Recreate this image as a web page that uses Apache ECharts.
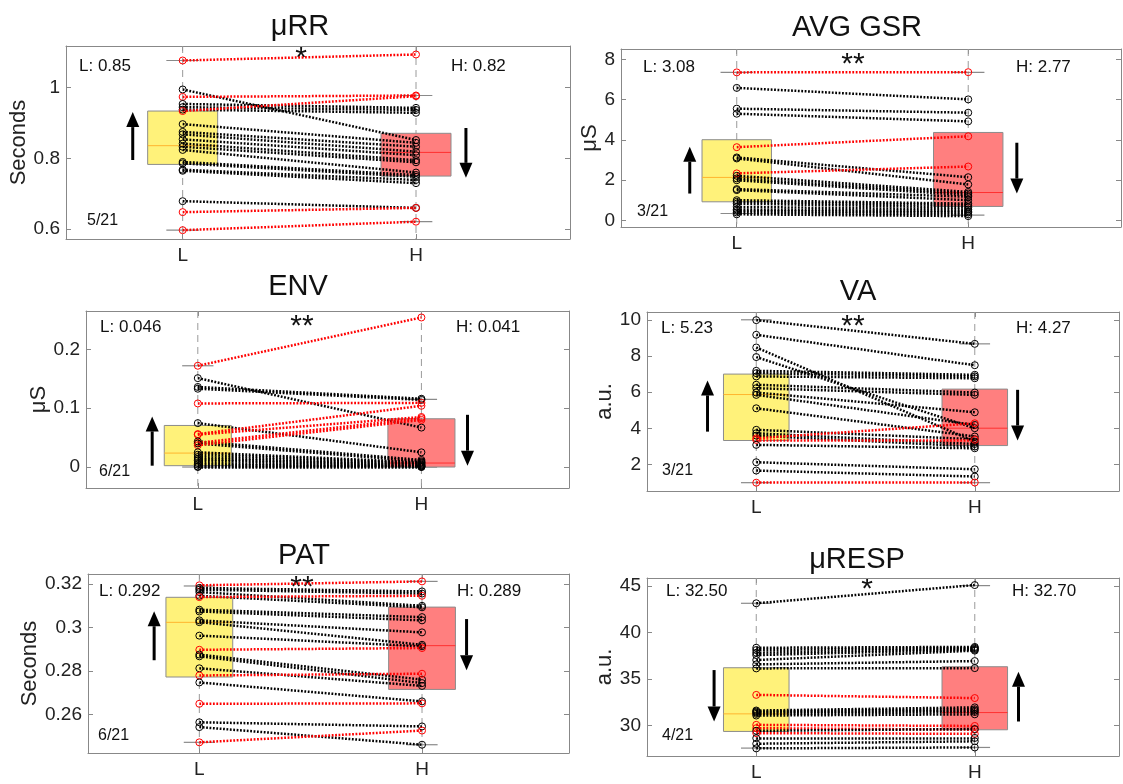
<!DOCTYPE html>
<html>
<head>
<meta charset="utf-8">
<script src="https://cdn.jsdelivr.net/npm/echarts@6/dist/echarts.min.js"></script>
<style>html,body{margin:0;background:#fff}#main{width:1123px;height:784px}</style>
</head>
<body>
<div id="main"></div>
<script>
const myChart = echarts.init(document.getElementById('main'));
const FONT = '"Liberation Sans", Arial, Helvetica, sans-serif';

// one value per subject (21), L = low condition, H = high condition
const rrL = [1.077, 0.995, 0.974, 0.954, 0.945, 0.938, 0.934, 0.897, 0.875, 0.868, 0.854, 0.842, 0.833, 0.824, 0.790, 0.786, 0.768, 0.765, 0.679, 0.648, 0.597];
const rrH = [1.094, 0.852, 0.978, 0.943, 0.937, 0.929, 0.976, 0.844, 0.833, 0.819, 0.809, 0.795, 0.789, 0.760, 0.753, 0.748, 0.739, 0.730, 0.660, 0.660, 0.621];

const gsrL = [7.35, 6.58, 5.55, 5.30, 3.64, 3.13, 3.08, 2.34, 2.22, 2.09, 2.00, 1.56, 1.51, 1.01, 0.93, 0.84, 0.68, 0.55, 0.48, 0.40, 0.31];
const gsrH = [7.36, 6.01, 5.35, 4.92, 4.18, 2.15, 1.79, 2.68, 1.42, 1.34, 1.26, 1.18, 1.01, 0.84, 0.76, 0.65, 0.55, 0.46, 0.40, 0.31, 0.22];

const envL = [0.172, 0.151, 0.136, 0.133, 0.108, 0.0746, 0.056, 0.055, 0.0435, 0.041, 0.040, 0.037, 0.025, 0.021, 0.017, 0.0136, 0.011, 0.0068, 0.004, 0.001, 0.000];
const envH = [0.254, 0.067, 0.116, 0.114, 0.109, 0.025, 0.104, 0.085, 0.012, 0.083, 0.0096, 0.080, 0.008, 0.007, 0.0055, 0.004, 0.003, 0.002, 0.001, 0.0005, 0.000];

const vaL = [9.98, 9.17, 8.47, 7.94, 7.18, 7.05, 6.87, 6.41, 6.22, 5.98, 5.85, 5.11, 3.92, 3.73, 3.60, 3.45, 3.36, 3.09, 2.13, 1.67, 1.00];
const vaH = [8.67, 7.49, 3.27, 4.01, 6.96, 6.87, 6.77, 5.98, 5.85, 4.89, 4.19, 3.55, 3.40, 3.14, 3.00, 4.28, 3.37, 2.90, 1.74, 1.34, 1.01];

const patL = [0.3194, 0.3182, 0.3174, 0.3163, 0.3146, 0.3140, 0.3082, 0.3074, 0.3033, 0.3025, 0.2963, 0.2898, 0.2876, 0.2868, 0.2813, 0.2780, 0.2748, 0.2650, 0.2565, 0.2543, 0.2473];
const patH = [0.3212, 0.3166, 0.3156, 0.3100, 0.3093, 0.3146, 0.3048, 0.3033, 0.2978, 0.2921, 0.2914, 0.2906, 0.2761, 0.2745, 0.2732, 0.2788, 0.2661, 0.2652, 0.2546, 0.2462, 0.2527];

const respL = [43.14, 38.36, 38.11, 37.82, 37.57, 37.04, 36.57, 36.14, 33.29, 31.61, 31.50, 31.39, 31.25, 31.07, 30.07, 29.71, 29.43, 29.18, 28.64, 28.04, 27.54];
const respH = [45.10, 38.45, 38.35, 38.25, 38.15, 38.05, 36.93, 36.17, 32.95, 31.95, 31.75, 31.60, 31.45, 31.20, 29.95, 29.55, 29.62, 29.10, 28.66, 28.30, 27.64];

// box stats: [lower whisker, q1, median, q3, upper whisker]
const rrBoxL = [0.597, 0.783, 0.836, 0.934, 1.077], rrBoxH = [0.621, 0.750, 0.817, 0.871, 0.978];
const gsrBoxL = [0.35, 0.93, 2.14, 4.01, 7.35], gsrBoxH = [0.27, 0.70, 1.39, 4.37, 7.35];
const envBoxL = [0, 0.0023, 0.0237, 0.0706, 0.172], envBoxH = [0, 0, 0.0068, 0.082, 0.115];
const vaBoxL = [1.0, 3.33, 5.87, 7.0, 10.0], vaBoxH = [1.0, 3.05, 4.01, 6.17, 8.67];
const patBoxL = [0.2473, 0.2773, 0.3024, 0.3139, 0.3191], patBoxH = [0.2462, 0.2716, 0.2917, 0.3094, 0.3212];
const respBoxL = [27.57, 29.36, 31.25, 36.21, 43.14], respBoxH = [27.64, 29.54, 31.39, 36.32, 45.04];

// tick labels
const xLabels = ['L', 'H'];
const rrTicks = [0.6, 0.8, 1];
const gsrTicks = [0, 2, 4, 6, 8];
const envTicks = [0, 0.1, 0.2];
const vaTicks = [2, 4, 6, 8, 10];
const patTicks = [0.26, 0.28, 0.3, 0.32];
const respTicks = [30, 35, 40, 45];

const panels = [
  {title: 'μRR', unit: 'Seconds', L: rrL, H: rrH, boxL: rrBoxL, boxH: rrBoxH, ticks: rrTicks, dir: -1, means: ['L: 0.85', 'H: 0.82'], star: '*', count: '5/21'},
  {title: 'AVG GSR', unit: 'μS', L: gsrL, H: gsrH, boxL: gsrBoxL, boxH: gsrBoxH, ticks: gsrTicks, dir: -1, means: ['L: 3.08', 'H: 2.77'], star: '**', count: '3/21'},
  {title: 'ENV', unit: 'μS', L: envL, H: envH, boxL: envBoxL, boxH: envBoxH, ticks: envTicks, dir: -1, means: ['L: 0.046', 'H: 0.041'], star: '**', count: '6/21'},
  {title: 'VA', unit: 'a.u.', L: vaL, H: vaH, boxL: vaBoxL, boxH: vaBoxH, ticks: vaTicks, dir: -1, means: ['L: 5.23', 'H: 4.27'], star: '**', count: '3/21'},
  {title: 'PAT', unit: 'Seconds', L: patL, H: patH, boxL: patBoxL, boxH: patBoxH, ticks: patTicks, dir: -1, means: ['L: 0.292', 'H: 0.289'], star: '**', count: '6/21'},
  {title: 'μRESP', unit: 'a.u.', L: respL, H: respH, boxL: respBoxL, boxH: respBoxH, ticks: respTicks, dir: 1, means: ['L: 32.50', 'H: 32.70'], star: '*', count: '4/21'}
];

// placement of each subplot and its annotations (pixels), arrows in axis units
const layout = [
  {grid: [66, 46, 504, 193], y: [0.572, 1.118], gap: 36, title: [300, 27], lt: [79, 66], ht: [451, 66], star: [301, 59], cnt: [87, 221],
   arrows: [[0.786, 0.7955, 0.931], [2.214, 0.886, 0.745]]},
  {grid: [621, 49, 500, 178], y: [-0.32, 8.51], gap: 17, title: [857, 28], lt: [643, 67], ht: [1016, 67], star: [853, 65], cnt: [637, 212],
   arrows: [[0.797, 1.34, 3.66], [2.21, 3.86, 1.34]]},
  {grid: [86, 311, 483, 177], y: [-0.0356, 0.265], gap: 33, title: [298, 287], lt: [100, 327], ht: [456, 327], star: [302, 327], cnt: [99, 472],
   arrows: [[0.796, 0.0023, 0.086], [2.206, 0.0887, 0.0023]]},
  {grid: [647, 312, 472, 179], y: [0.54, 10.43], gap: 28, title: [858, 292], lt: [661, 328], ht: [1016, 328], star: [853, 327], cnt: [662, 471],
   arrows: [[0.777, 3.82, 6.65], [2.196, 6.13, 3.33]]},
  {grid: [88, 574, 481, 179], y: [0.2424, 0.3246], gap: 45, title: [304, 556], lt: [99, 591], ht: [457, 591], star: [302, 588], cnt: [98, 736],
   arrows: [[0.797, 0.285, 0.3075], [2.2, 0.3039, 0.2804]]},
  {grid: [647, 578, 472, 178], y: [26.72, 45.86], gap: 29, title: [857, 560], lt: [666, 591], ht: [1012, 591], star: [867, 590], cnt: [662, 736],
   arrows: [[0.807, 35.96, 30.43], [2.2, 30.43, 35.79]]}
];

const AX = '#888';

function renderBox(params, api) {
  const x = api.value(0);
  const cs = params.coordSys;
  const xc = api.coord([x, api.value(3)])[0];
  const xl = api.coord([x - 0.15, 0])[0], xr = api.coord([x + 0.15, 0])[0];
  const cl = api.coord([x - 0.07, 0])[0], cr = api.coord([x + 0.07, 0])[0];
  const yLo = api.coord([x, api.value(1)])[1];
  const yQ1 = api.coord([x, api.value(2)])[1];
  const yMed = api.coord([x, api.value(3)])[1];
  const yQ3 = api.coord([x, api.value(4)])[1];
  const yHi = api.coord([x, api.value(5)])[1];
  const low = x === 1;
  return {
    type: 'group',
    children: [
      {type: 'line', shape: {x1: xc, y1: cs.y, x2: xc, y2: cs.y + cs.height}, style: {stroke: '#9a9a9a', lineWidth: 1, lineDash: [7, 5]}},
      {type: 'line', shape: {x1: cl, y1: yHi, x2: cr, y2: yHi}, style: {stroke: '#8a8a8a', lineWidth: 1.2}},
      {type: 'line', shape: {x1: cl, y1: yLo, x2: cr, y2: yLo}, style: {stroke: '#8a8a8a', lineWidth: 1.2}},
      {type: 'rect', shape: {x: xl, y: yQ3, width: xr - xl, height: yQ1 - yQ3},
       style: {fill: low ? '#fff27a' : '#ff7f7f', stroke: '#8c8c8c', lineWidth: 1}},
      {type: 'line', shape: {x1: xl, y1: yMed, x2: xr, y2: yMed},
       style: {stroke: low ? '#ffb52e' : '#ff3030', lineWidth: 1}}
    ]
  };
}

function renderArrow(params, api) {
  const p0 = api.coord([api.value(0), api.value(1)]);
  const p1 = api.coord([api.value(0), api.value(2)]);
  const d = p1[1] > p0[1] ? 1 : -1;
  const head = 15, hw = 6.5;
  return {
    type: 'group',
    children: [
      {type: 'line', shape: {x1: p0[0], y1: p0[1], x2: p1[0], y2: p1[1] - d * head}, style: {stroke: '#000', lineWidth: 3}},
      {type: 'polygon', shape: {points: [[p1[0], p1[1]], [p1[0] - hw, p1[1] - d * head], [p1[0] + hw, p1[1] - d * head]]}, style: {fill: '#000'}}
    ]
  };
}

const grid = [], xAxis = [], yAxis = [], series = [], graphic = [];

panels.forEach((p, i) => {
  const g = layout[i];
  grid.push({left: g.grid[0], top: g.grid[1], width: g.grid[2], height: g.grid[3]});
  const axisLine = {show: true, onZero: false, lineStyle: {color: AX, width: 1}};
  const xTick = {inside: true, length: 5, customValues: [1, 2], lineStyle: {color: AX}};
  const yTick = {inside: true, length: 5, customValues: p.ticks, lineStyle: {color: AX}};
  xAxis.push({gridIndex: i, type: 'value', min: 0.5, max: 2.66, axisLine, axisTick: xTick, splitLine: {show: false},
    axisLabel: {customValues: [1, 2], formatter: v => xLabels[Math.round(v) - 1], fontSize: 19, margin: 7, color: '#222', fontFamily: FONT}});
  xAxis.push({gridIndex: i, type: 'value', position: 'top', min: 0.5, max: 2.66, axisLine, axisTick: xTick, splitLine: {show: false}, axisLabel: {show: false}});
  yAxis.push({gridIndex: i, type: 'value', min: g.y[0], max: g.y[1], axisLine, axisTick: yTick, splitLine: {show: false},
    name: p.unit, nameLocation: 'middle', nameGap: g.gap, nameTextStyle: {fontSize: 22, color: '#222', fontFamily: FONT},
    axisLabel: {customValues: p.ticks, fontSize: 19, margin: 6, color: '#222', fontFamily: FONT}});
  yAxis.push({gridIndex: i, type: 'value', position: 'right', min: g.y[0], max: g.y[1], axisLine, axisTick: yTick, splitLine: {show: false}, axisLabel: {show: false}});

  const xi = 2 * i, yi = 2 * i;
  const colorOf = k => ((p.H[k] - p.L[k]) * p.dir < 0 ? '#ff0000' : '#000000');

  series.push({type: 'custom', xAxisIndex: xi, yAxisIndex: yi, silent: true, z: 1, renderItem: renderBox,
    data: [[1, ...p.boxL], [2, ...p.boxH]]});
  series.push({type: 'lines', coordinateSystem: 'cartesian2d', xAxisIndex: xi, yAxisIndex: yi, silent: true, z: 3,
    lineStyle: {width: 2.5, type: [1.8, 1.6], opacity: 1, curveness: 0},
    data: p.L.map((l, k) => ({coords: [[1, l], [2, p.H[k]]], lineStyle: {color: colorOf(k)}}))});
  const pts = [];
  p.L.forEach((l, k) => {
    pts.push({value: [1, l], itemStyle: {borderColor: colorOf(k)}});
    pts.push({value: [2, p.H[k]], itemStyle: {borderColor: colorOf(k)}});
  });
  series.push({type: 'scatter', xAxisIndex: xi, yAxisIndex: yi, silent: true, z: 4, symbol: 'circle', symbolSize: 7,
    itemStyle: {color: 'rgba(255,255,255,0)', borderWidth: 1, opacity: 1}, data: pts});
  series.push({type: 'custom', xAxisIndex: xi, yAxisIndex: yi, silent: true, z: 5, renderItem: renderArrow, data: g.arrows});

  const txt = (pos, text, size, align, va) => ({type: 'text', x: pos[0], y: pos[1], silent: true,
    style: {text, fontSize: size, fontFamily: FONT, fill: '#111', align, verticalAlign: va}});
  graphic.push(txt(g.title, p.title, 29, 'center', 'middle'));
  graphic.push(txt(g.lt, p.means[0], 17, 'left', 'middle'));
  graphic.push(txt(g.ht, p.means[1], 17, 'left', 'middle'));
  graphic.push(txt(g.star, p.star, 30, 'center', 'middle'));
  graphic.push(txt(g.cnt, p.count, 16, 'left', 'middle'));
});

option = {
  animation: false,
  backgroundColor: '#fff',
  grid, xAxis, yAxis, series, graphic
};

myChart.setOption(option);
</script>
</body>
</html>
